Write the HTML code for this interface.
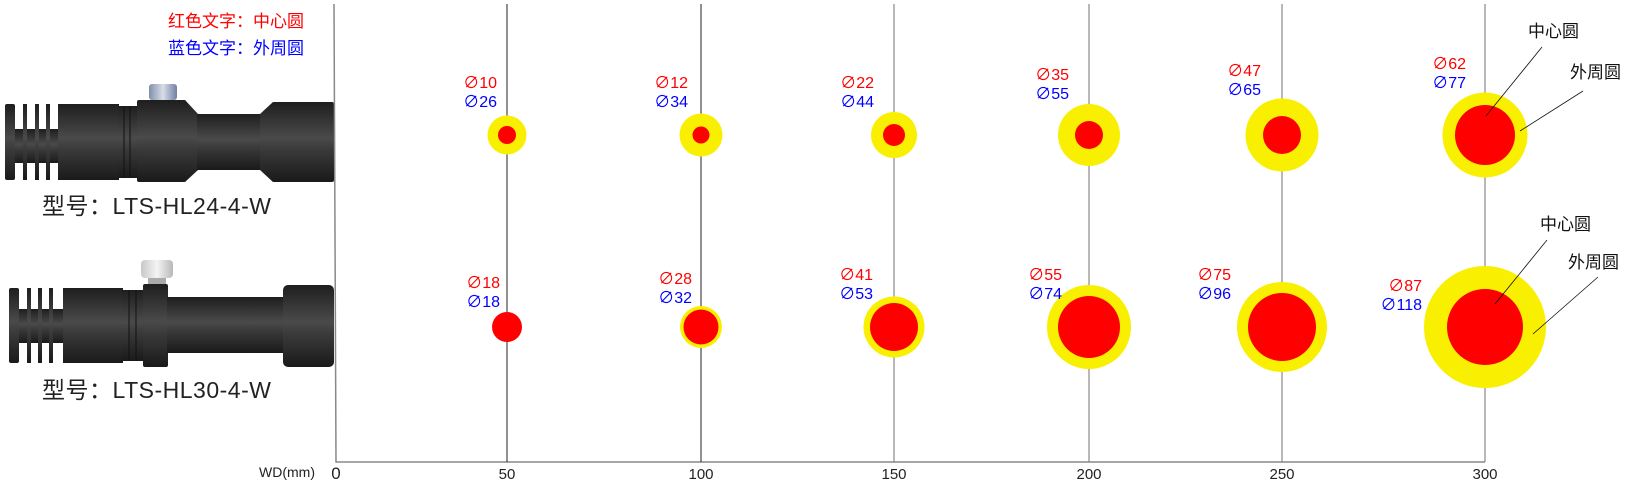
<!DOCTYPE html>
<html><head><meta charset="utf-8"><style>
html,body{margin:0;padding:0;background:#fff;}
svg{display:block;}
text{font-family:"Liberation Sans","Noto Sans CJK SC",sans-serif;}
.r{fill:#ff0000;font-size:16px;}
.b{fill:#0000ff;font-size:16px;}
</style></head><body>
<svg width="1632" height="485" viewBox="0 0 1632 485" xmlns="http://www.w3.org/2000/svg">
<defs>
<linearGradient id="g" x1="0" y1="0" x2="0" y2="1">
<stop offset="0" stop-color="#1e1e1e"/><stop offset="0.45" stop-color="#4a4a4a"/><stop offset="0.6" stop-color="#3a3a3a"/><stop offset="1" stop-color="#1a1a1a"/>
</linearGradient>
<linearGradient id="k1" x1="0" y1="0" x2="1" y2="0">
<stop offset="0" stop-color="#8090a8"/><stop offset="0.5" stop-color="#d8dde8"/><stop offset="1" stop-color="#7080a0"/>
</linearGradient>
<linearGradient id="k2" x1="0" y1="0" x2="1" y2="0">
<stop offset="0" stop-color="#c8c8c8"/><stop offset="0.5" stop-color="#f4f4f4"/><stop offset="1" stop-color="#b8b8b8"/>
</linearGradient>
</defs>

<!-- legend -->
<text x="168" y="27" fill="#ff0000" font-size="17">红色文字：中心圆</text>
<text x="168" y="54" fill="#0000ff" font-size="17">蓝色文字：外周圆</text>

<!-- lamp 1 -->
<g fill="url(#g)">
<rect x="5" y="104" width="10" height="76" rx="2"/>
<rect x="15" y="129" width="45" height="34"/>
<rect x="23" y="104" width="4" height="76"/>
<rect x="35" y="104" width="4" height="76"/>
<rect x="46" y="104" width="4" height="76"/>
<rect x="58" y="104" width="61" height="76"/>
<rect x="118" y="106" width="20" height="72"/>
<rect x="137" y="100" width="49" height="82" rx="2"/>
<polygon points="185,100 198,114 198,170 185,182"/>
<rect x="197" y="114" width="64" height="56"/>
<polygon points="260,114 273,102 273,182 260,170"/>
<rect x="272" y="102" width="62" height="80" rx="2"/>
</g>
<g stroke="#111" stroke-width="1"><line x1="124" y1="106" x2="124" y2="178"/><line x1="130" y1="106" x2="130" y2="178"/></g>
<rect x="149" y="84" width="28" height="16" rx="3" fill="url(#k1)"/>
<text x="42" y="214" fill="#222" font-size="23" letter-spacing="0.5">型号：LTS-HL24-4-W</text>

<!-- lamp 2 -->
<g fill="url(#g)">
<rect x="9" y="288" width="10" height="75" rx="2"/>
<rect x="19" y="309" width="45" height="34"/>
<rect x="27" y="288" width="4" height="75"/>
<rect x="38" y="288" width="4" height="75"/>
<rect x="49" y="288" width="4" height="75"/>
<rect x="63" y="288" width="60" height="75"/>
<rect x="122" y="290" width="22" height="71"/>
<rect x="143" y="284" width="25" height="83" rx="2"/>
<rect x="167" y="297" width="117" height="56"/>
<rect x="283" y="285" width="51" height="82" rx="5"/>
</g>
<g stroke="#111" stroke-width="1"><line x1="129" y1="290" x2="129" y2="361"/><line x1="136" y1="290" x2="136" y2="361"/></g>
<rect x="141" y="260" width="32" height="18" rx="4" fill="url(#k2)"/>
<rect x="148" y="278" width="18" height="6" fill="#aaa"/>
<text x="42" y="398" fill="#222" font-size="23" letter-spacing="0.5">型号：LTS-HL30-4-W</text>

<!-- axes -->
<polyline points="334,4 336,462 1485,462" fill="none" stroke="#888" stroke-width="1.5"/>
<g stroke="#222" stroke-width="1">
<line x1="507" y1="4" x2="507" y2="462"/>
<line x1="701" y1="4" x2="701" y2="462"/>
</g>
<g stroke="#888" stroke-width="1.2">
<line x1="894" y1="4" x2="894" y2="462"/>
<line x1="1089" y1="4" x2="1089" y2="462"/>
<line x1="1282" y1="4" x2="1282" y2="462"/>
<line x1="1485" y1="4" x2="1485" y2="462"/>
</g>
<text x="315" y="477" font-size="14" fill="#222" text-anchor="end">WD(mm)</text>
<g font-size="15" fill="#222" text-anchor="middle">
<text x="336" y="479" font-size="17">0</text>
<text x="507" y="479">50</text>
<text x="701" y="479">100</text>
<text x="894" y="479">150</text>
<text x="1089" y="479">200</text>
<text x="1282" y="479">250</text>
<text x="1485" y="479">300</text>
</g>

<!-- row 1 circles -->
<g fill="#f8f000">
<circle cx="507" cy="135" r="19.5"/>
<circle cx="701" cy="135" r="21.5"/>
<circle cx="894" cy="135" r="23"/>
<circle cx="1089" cy="135" r="31"/>
<circle cx="1282" cy="135" r="36.5"/>
<circle cx="1485" cy="135" r="42.5"/>
</g>
<g fill="#ff0000">
<circle cx="507" cy="135" r="9"/>
<circle cx="701" cy="135" r="8.5"/>
<circle cx="894" cy="135" r="11"/>
<circle cx="1089" cy="135" r="14"/>
<circle cx="1282" cy="135" r="19"/>
<circle cx="1485" cy="135" r="30"/>
</g>
<!-- row 2 circles -->
<g fill="#f8f000">
<circle cx="701" cy="327" r="21"/>
<circle cx="894" cy="327" r="30.5"/>
<circle cx="1089" cy="327" r="42"/>
<circle cx="1282" cy="327" r="45"/>
<circle cx="1485" cy="327" r="61"/>
</g>
<g fill="#ff0000">
<circle cx="507" cy="327" r="15"/>
<circle cx="701" cy="327" r="17.5"/>
<circle cx="894" cy="327" r="24"/>
<circle cx="1089" cy="327" r="31"/>
<circle cx="1282" cy="327" r="34"/>
<circle cx="1485" cy="327" r="38"/>
</g>

<!-- labels -->
<g text-anchor="end">
<text class="r" x="497" y="88">∅10</text><text class="b" x="497" y="107">∅26</text>
<text class="r" x="688" y="88">∅12</text><text class="b" x="688" y="107">∅34</text>
<text class="r" x="874" y="88">∅22</text><text class="b" x="874" y="107">∅44</text>
<text class="r" x="1069" y="80">∅35</text><text class="b" x="1069" y="99">∅55</text>
<text class="r" x="1261" y="76">∅47</text><text class="b" x="1261" y="95">∅65</text>
<text class="r" x="1466" y="69">∅62</text><text class="b" x="1466" y="88">∅77</text>
<text class="r" x="500" y="288">∅18</text><text class="b" x="500" y="307">∅18</text>
<text class="r" x="692" y="284">∅28</text><text class="b" x="692" y="303">∅32</text>
<text class="r" x="873" y="280">∅41</text><text class="b" x="873" y="299">∅53</text>
<text class="r" x="1062" y="280">∅55</text><text class="b" x="1062" y="299">∅74</text>
<text class="r" x="1231" y="280">∅75</text><text class="b" x="1231" y="299">∅96</text>
<text class="r" x="1422" y="291">∅87</text><text class="b" x="1422" y="310">∅118</text>
</g>

<!-- callouts -->
<g stroke="#111" stroke-width="0.8">
<line x1="1542" y1="47" x2="1486" y2="116"/>
<line x1="1583" y1="91" x2="1520" y2="131"/>
<line x1="1547" y1="240" x2="1495" y2="304"/>
<line x1="1598" y1="277" x2="1533" y2="334"/>
</g>
<g font-size="17" fill="#111">
<text x="1528" y="37">中心圆</text>
<text x="1570" y="78">外周圆</text>
<text x="1540" y="230">中心圆</text>
<text x="1568" y="268">外周圆</text>
</g>
</svg>
</body></html>
